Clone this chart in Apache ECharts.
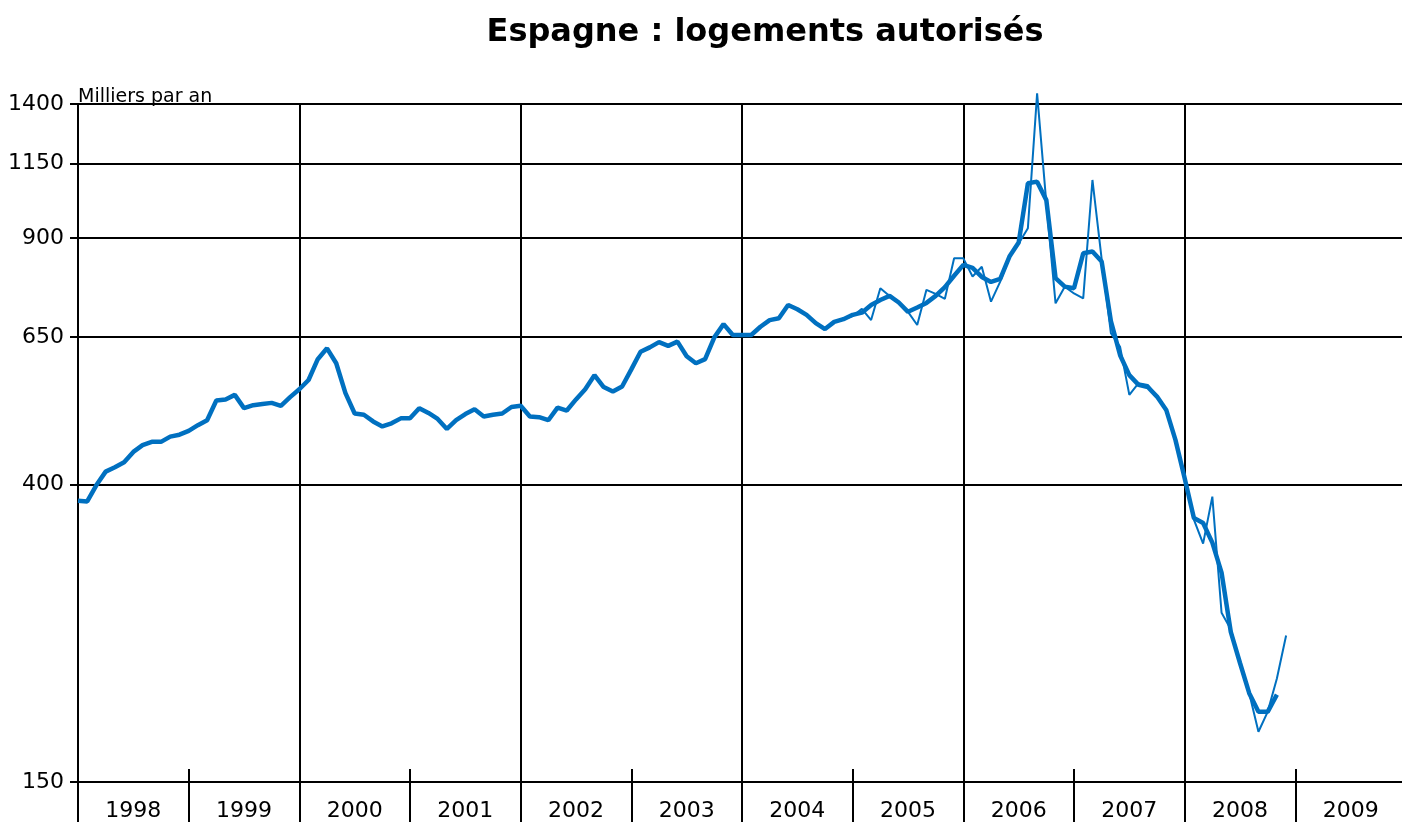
<!DOCTYPE html>
<html>
<head>
<meta charset="utf-8">
<title>Espagne : logements autorisés</title>
<script src="https://cdn.jsdelivr.net/npm/echarts@6/dist/echarts.min.js"></script>
<style>
  html, body { margin: 0; padding: 0; background: #fff; }
  #chart { width: 1402px; height: 825px; }
</style>
</head>
<body>
<div id="chart"></div>
<script>
// années sous l'axe horizontal
const years = ['1998', '1999', '2000', '2001', '2002', '2003', '2004', '2005', '2006', '2007', '2008', '2009'];
const yTicks = [150, 400, 650, 900, 1150, 1400];
const firstYear = 1998;

// série lissée, mensuelle depuis janvier 1998 (milliers par an)
const smoothed = [
  379, 378, 399, 417, 423, 430, 445, 455, 460, 460, 468, 471,
  477, 486, 494, 527, 529, 537, 514, 519, 521, 523, 518, 533,
  547, 564, 604, 626, 596, 540, 505, 503, 492, 484, 489, 497,
  497, 514, 506, 496, 480, 494, 504, 512, 500, 503, 505, 516,
  518, 500, 499, 494, 515, 510, 529, 547, 573, 551, 543, 552,
  584, 619, 628, 639, 631, 640, 610, 596, 604, 649, 678, 654,
  654, 654, 672, 687, 691, 722, 712, 699, 680, 667, 683, 689,
  699, 704, 722, 734, 744, 728, 706, 716, 727, 744, 766, 795,
  824, 816, 792, 779, 787, 847, 887, 1078, 1084, 1020, 789, 767,
  763, 856, 861, 833, 685, 612, 573, 555, 551, 534, 511, 463,
  408, 358, 352, 330, 299, 246, 222, 201, 189, 189, 200
];

// série mensuelle brute, depuis juillet 2004
const rawStart = 78;
const monthly = [
  712, 699, 680, 667, 683, 689,
  696, 713, 687, 763, 744, 730, 706, 676, 759, 749, 737, 842,
  842, 793, 819, 730, 780, 845, 884, 930, 1450, 1010, 726, 767,
  750, 738, 1090, 840, 658, 629, 537, 558, 555, 534, 511, 463,
  408, 356, 329, 384, 262, 248, 222, 201, 177, 189, 211, 243
];

const toPoints = (values, start) => values.map((v, i) => [firstYear + (start + i) / 12, v]);

const chart = echarts.init(document.getElementById('chart'));
const black = '#000';
const blue = '#0070c0';
const font = 'DejaVu Sans, sans-serif';

chart.setOption({
  animation: false,
  title: {
    text: 'Espagne : logements autorisés',
    left: 760,
    top: 12,
    textAlign: 'center',
    textStyle: { fontFamily: font, fontSize: 32, fontWeight: 'bold', color: black }
  },
  // la dernière année sort un peu du cadre, comme sur l'original
  grid: { left: 78, width: 1328, top: 104, bottom: 43, outerBoundsMode: 'none', containLabel: false },
  xAxis: [{
    type: 'category',
    position: 'bottom',
    data: years,
    boundaryGap: true,
    axisLine: { show: true, lineStyle: { color: black, width: 2 } },
    axisTick: { show: true, length: 40, interval: 0, lineStyle: { color: black, width: 2 } },
    axisLabel: { interval: 0, margin: 18, fontFamily: font, fontSize: 22, color: black },
    splitLine: { show: false }
  }, {
    type: 'value',
    position: 'bottom',
    min: 1998,
    max: 2010,
    interval: 1,
    axisLine: { show: false },
    axisTick: { show: true, inside: true, length: 13, lineStyle: { color: black, width: 2 } },
    axisLabel: { show: false },
    splitLine: { show: false }
  }, {
    type: 'value',
    position: 'bottom',
    min: 1998,
    max: 2010,
    interval: 2,
    axisLine: { show: false },
    axisTick: { show: false },
    axisLabel: { show: false },
    splitLine: { show: true, showMinLine: false, showMaxLine: false, lineStyle: { color: black, width: 2 } }
  }],
  yAxis: {
    type: 'log',
    logBase: 10,
    min: 150,
    max: 1400,
    name: 'Milliers par an',
    nameLocation: 'end',
    nameGap: -3,
    nameTextStyle: { fontFamily: font, fontSize: 19, color: black, align: 'left', verticalAlign: 'bottom' },
    axisLine: { show: true, lineStyle: { color: black, width: 2 } },
    axisTick: { show: true, length: 8, customValues: yTicks, lineStyle: { color: black, width: 2 } },
    axisLabel: {
      margin: 14,
      customValues: yTicks,
      formatter: v => String(Math.round(v)),
      fontFamily: font,
      fontSize: 22,
      color: black
    },
    splitLine: { show: true, lineStyle: { color: black, width: 2 } },
    minorTick: { show: false }
  },
  series: [{
    name: 'mensuel',
    type: 'line',
    xAxisIndex: 1,
    data: toPoints(monthly, rawStart),
    symbol: 'none',
    clip: false,
    lineStyle: { color: blue, width: 2 }
  }, {
    name: 'lissé',
    type: 'line',
    xAxisIndex: 1,
    data: toPoints(smoothed, 0),
    symbol: 'none',
    lineStyle: { color: blue, width: 4.5 }
  }]
});
</script>
</body>
</html>
